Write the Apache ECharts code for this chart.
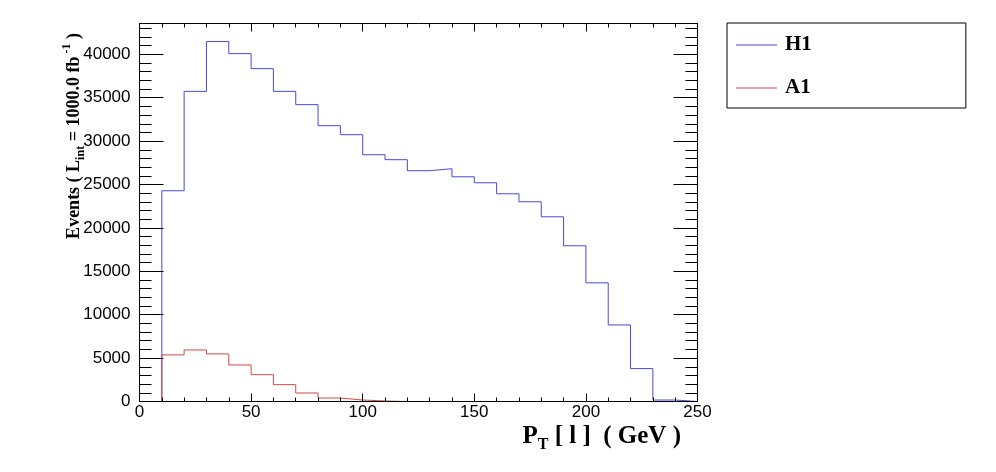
<!DOCTYPE html>
<html>
<head>
<meta charset="utf-8">
<script src="https://cdn.jsdelivr.net/npm/echarts@6/dist/echarts.min.js"></script>
<style>
html,body{margin:0;padding:0;background:#fff;}
#chart{width:996px;height:472px;}
</style>
</head>
<body>
<div id="chart"></div>
<script>
// Bin edges of the histogram (GeV)
const binEdges = [0,10,20,30,40,50,60,70,80,90,100,110,120,130,140,150,160,170,180,190,200,210,220,230,240,250];
// Bin contents, one per bin
const seriesNames = ['H1', 'A1'];
const h1Values = [0, 24280, 35730, 41470, 40080, 38350, 35730, 34200, 31780, 30740, 28430, 27860, 26590, 26820, 25890, 25200, 23930, 23010, 21280, 17940, 13670, 8820, 3790, 170, 0];
const a1Values = [0, 5370, 5940, 5480, 4210, 3090, 1940, 980, 400, 170, 60, 0, 0, 0, 0, 0, 0, 0, 0, 0, 0, 0, 0, 0, 0];
const xTicks = [0, 50, 100, 150, 200, 250];
const yMax = 43550;

function histPoints(vals) {
  const pts = [];
  for (let i = 0; i < vals.length; i++) pts.push([binEdges[i], vals[i]]);
  pts.push([binEdges[vals.length], vals[vals.length - 1]]);
  return pts;
}

const chart = echarts.init(document.getElementById('chart'), null, {renderer: 'canvas'});
const black = '#000';
const labelFont = {fontFamily: 'Liberation Sans', fontSize: 17, color: black};

function xAxisDef(pos, showLabel) {
  return {
    type: 'value', position: pos, min: xTicks[0], max: xTicks[xTicks.length - 1], interval: xTicks[1] - xTicks[0],
    z: 5,
    axisLine: {show: true, onZero: false, lineStyle: {color: black, width: 1}},
    axisTick: {show: true, inside: true, length: 8, lineStyle: {color: black, width: 1}},
    minorTick: {show: true, splitNumber: 5, length: 4, lineStyle: {color: black, width: 1}},
    axisLabel: Object.assign({show: showLabel, margin: 2}, labelFont),
    splitLine: {show: false}, minorSplitLine: {show: false}
  };
}
function yAxisDef(pos, interval, tickLen, showLabel, showLine) {
  return {
    type: 'value', position: pos, min: 0, max: yMax, interval: interval,
    z: 5,
    axisLine: {show: showLine, onZero: false, lineStyle: {color: black, width: 1}},
    axisTick: {show: true, inside: true, length: tickLen, lineStyle: {color: black, width: 1}},
    axisLabel: Object.assign({show: showLabel, margin: 9,
      formatter: function (v) { return v % 5000 === 0 ? String(v) : ''; }}, labelFont),
    splitLine: {show: false}
  };
}

const option = {
  backgroundColor: '#fff',
  animation: false,
  grid: {left: 139.5, right: 298.5, top: 23.5, bottom: 70.5, containLabel: false},
  xAxis: [xAxisDef('bottom', true), xAxisDef('top', false)],
  yAxis: [
    yAxisDef('left', 5000, 24, true, true),
    yAxisDef('left', 1000, 12, false, false),
    yAxisDef('right', 5000, 24, false, true),
    yAxisDef('right', 1000, 12, false, false)
  ],
  legend: {
    left: 727, top: 23, orient: 'vertical',
    padding: [11, 154, 9, 9],
    itemWidth: 41, itemHeight: 1, itemGap: 21, icon: 'rect',
    borderColor: black, borderWidth: 1, borderRadius: 0,
    textStyle: {fontFamily: 'Liberation Serif', fontWeight: 'bold', fontSize: 21, color: black, lineHeight: 22, padding: [0, 0, 0, 3]},
    data: seriesNames
  },
  series: [
    {name: seriesNames[0], type: 'line', step: 'end', showSymbol: false, symbol: 'none',
     data: histPoints(h1Values), color: '#4848e0', lineStyle: {color: '#4848e0', width: 1}, z: 2},
    {name: seriesNames[1], type: 'line', step: 'end', showSymbol: false, symbol: 'none',
     data: histPoints(a1Values), color: '#d44848', lineStyle: {color: '#d44848', width: 1}, z: 3}
  ],
  graphic: [
    {
      type: 'text', x: 681, y: 437, z: 10,
      style: {
        text: '{m|P}{s|T}{m| [ l ]  ( GeV )}',
        align: 'right', verticalAlign: 'middle',
        rich: {
          m: {fontFamily: 'Liberation Serif', fontWeight: 'bold', fontSize: 25, lineHeight: 32, color: black},
          s: {fontFamily: 'Liberation Serif', fontWeight: 'bold', fontSize: 16, lineHeight: 16, verticalAlign: 'bottom', color: black}
        }
      }
    },
    {
      type: 'text', x: 74, y: 136, rotation: Math.PI / 2, z: 10,
      style: {
        text: '{m|Events ( L}{s|int}{m| = 1000.0 fb}{p| -1}{m| )}',
        align: 'center', verticalAlign: 'middle',
        rich: {
          m: {fontFamily: 'Liberation Serif', fontWeight: 'bold', fontSize: 18, lineHeight: 26, color: black},
          s: {fontFamily: 'Liberation Serif', fontWeight: 'bold', fontSize: 12, lineHeight: 12, verticalAlign: 'bottom', color: black},
          p: {fontFamily: 'Liberation Serif', fontWeight: 'bold', fontSize: 12, lineHeight: 12, verticalAlign: 'top', color: black}
        }
      }
    }
  ]
};
chart.setOption(option);
</script>
</body>
</html>
